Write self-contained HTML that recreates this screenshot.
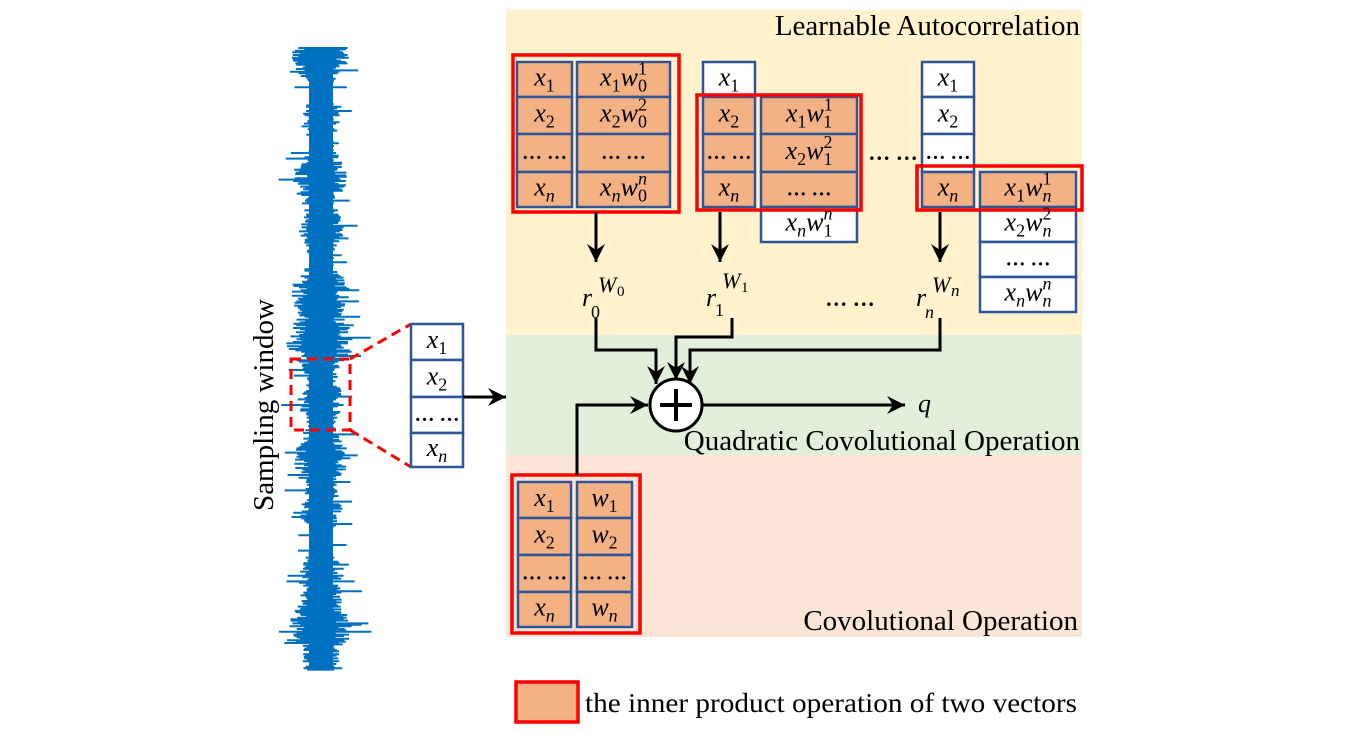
<!DOCTYPE html>
<html><head><meta charset="utf-8"><style>
body{margin:0;background:#fff;}
svg{display:block;}
text{font-family:"Liberation Serif",serif;}
.m{font-style:italic;font-size:26px;}
.s{font-size:18px;}
.t{font-size:29px;}
</style></head><body>
<svg width="1357" height="734" viewBox="0 0 1357 734" xmlns="http://www.w3.org/2000/svg">
<defs>
<marker id="ab" markerWidth="20" markerHeight="18" refX="18" refY="9" orient="auto" markerUnits="userSpaceOnUse"><path d="M0,0 L18,9 L0,18 L6,9z" fill="#000"/></marker></defs>
<rect x="506" y="10" width="576" height="325" fill="#FFF2CC"/>
<rect x="506" y="335" width="576" height="120" fill="#E2EFDA"/>
<rect x="506" y="455" width="576" height="182" fill="#FBE5D6"/>
<text class="t" x="1080" y="35" text-anchor="end">Learnable Autocorrelation</text>
<text class="t" x="1080" y="450" text-anchor="end">Quadratic Covolutional Operation</text>
<text class="t" x="1078" y="630" text-anchor="end">Covolutional Operation</text>
<g id="sig"></g>
<text class="t" x="273" y="405" text-anchor="middle" transform="rotate(-90 273 405)">Sampling window</text>
<g fill="none" stroke="#f00" stroke-width="3" stroke-dasharray="10,6">
<rect x="291" y="359" width="59" height="71"/>
<line x1="350" y1="359" x2="411" y2="324"/><line x1="350" y1="430" x2="411" y2="467"/></g>
<g stroke="#2F5597" stroke-width="2.5" id="cells"></g>
<g fill="none" stroke="#f00" stroke-width="3.5">
<rect x="513" y="55" width="166" height="157"/>
<rect x="697" y="95" width="164" height="115"/>
<rect x="917" y="166" width="165" height="44"/>
<rect x="512" y="475" width="128" height="158"/>
</g>
<g id="labs"></g>
<g stroke="#000" stroke-width="3" fill="none">
<line x1="596" y1="212" x2="596" y2="262" marker-end="url(#ab)"/>
<line x1="720" y1="212" x2="720" y2="262" marker-end="url(#ab)"/>
<line x1="940" y1="212" x2="940" y2="262" marker-end="url(#ab)"/>
<polyline points="596,318 596,350 656,350 656,384" marker-end="url(#ab)"/>
<polyline points="732,318 732,337 676,337 676,380" marker-end="url(#ab)"/>
<polyline points="940,318 940,350 690,350 690,384" marker-end="url(#ab)"/>
<polyline points="577,475 577,405 648,405" marker-end="url(#ab)"/>
<line x1="702" y1="405" x2="905" y2="405" marker-end="url(#ab)"/>
<line x1="463" y1="397" x2="506" y2="397" marker-end="url(#ab)"/>
<circle cx="676" cy="405" r="26" fill="#fff"/>
<line x1="660" y1="405" x2="692" y2="405" stroke-width="4"/><line x1="676" y1="389" x2="676" y2="421" stroke-width="4"/>
</g>
<text class="m" x="918" y="412">q</text>
<g class="m">
<text x="582" y="306">r</text><text x="591" y="318" font-size="18" font-style="normal">0</text>
<text x="598" y="292" font-size="22">W</text><text x="617" y="296" font-size="15" font-style="normal">0</text>
<text x="706" y="306">r</text><text x="715" y="316" font-size="18" font-style="normal">1</text>
<text x="722" y="288" font-size="22">W</text><text x="741" y="292" font-size="15" font-style="normal">1</text>
<text x="916" y="306">r</text><text x="925" y="318" font-size="18">n</text>
<text x="932" y="292" font-size="22">W</text><text x="951" y="296" font-size="17">n</text>
</g>
<text x="850" y="306" font-size="22" text-anchor="middle" font-weight="bold">… …</text>
<text x="893" y="160" font-size="22" text-anchor="middle" font-weight="bold">… …</text>
<rect x="516" y="682" width="62" height="40" fill="#F4B183" stroke="#f00" stroke-width="3.5"/>
<text x="585" y="712" font-size="27" textLength="492" lengthAdjust="spacingAndGlyphs">the inner product operation of two vectors</text>
</svg>
<script>
var ns="http://www.w3.org/2000/svg";
function el(p,t,a,txt){var e=document.createElementNS(ns,t);for(var k in a)e.setAttribute(k,a[k]);if(txt!==undefined)e.innerHTML=txt;document.getElementById(p).appendChild(e);return e;}
var seed=11;function rnd(){seed=(seed*9301+49297)%233280;return seed/233280;}
var d="";var c=321;
for(var y=48;y<670;y+=1.4){
 var env=17+4*Math.sin(y/23)+4*Math.sin(y/9+1)+3*Math.sin(y/57+2);
 var l=env*(0.6+0.7*rnd()), r=env*(0.6+0.7*rnd());
 if(rnd()<0.07)l+=8+14*rnd(); if(rnd()<0.07)r+=8+14*rnd();
 d+="M"+(c-l).toFixed(1)+","+y.toFixed(1)+"H"+(c+r).toFixed(1);}
el("sig","path",{d:d,stroke:"#0070C0","stroke-width":"2",fill:"none"});
el("sig","rect",{x:309,y:48,width:24,height:622,fill:"#0070C0"});
var O="#F4B183",W="#fff";
function sb(v){return '<tspan class="s" font-style="'+(v==='n'?'italic':'normal')+'" dy="6">'+v+'</tspan>';}
function x(i){return 'x'+sb(i);}
function xw(i,j,k){return 'x'+sb(i)+'<tspan dy="-6">w</tspan><tspan class="s" font-style="'+(k==='n'?'italic':'normal')+'" dy="-11">'+k+'</tspan><tspan class="s" font-style="'+(j==='n'?'italic':'normal')+'" dx="-9" dy="17">'+j+'</tspan>';}
var DOT='<tspan font-style="normal" font-weight="bold" font-size="20">… …</tspan>';
function cell(x0,y0,w,h,fill,html){el("cells","rect",{x:x0,y:y0,width:w,height:h,fill:fill});el("labs","text",{x:x0+w/2,y:y0+h/2+6,"text-anchor":"middle","class":"m"},html);}
var R=[62,97,134,172,207,242,277,312];
function col(x0,w,start,fills,labels){for(var i=0;i<labels.length;i++){cell(x0,R[start+i],w,R[start+i+1]-R[start+i],fills[i],labels[i]);}}
col(517,55,0,[O,O,O,O],[x(1),x(2),DOT,x('n')]);
col(577,93,0,[O,O,O,O],[xw(1,0,1),xw(2,0,2),DOT,xw('n',0,'n')]);
col(703,52,0,[W,O,O,O],[x(1),x(2),DOT,x('n')]);
col(761,96,1,[O,O,O,W],[xw(1,1,1),xw(2,1,2),DOT,xw('n',1,'n')]);
col(922,52,0,[W,W,W,O],[x(1),x(2),DOT,x('n')]);
col(980,96,3,[O,W,W,W],[xw(1,'n',1),xw(2,'n',2),DOT,xw('n','n','n')]);
var R2=[324,360,397,433,467];
for(var i=0;i<4;i++)cell(411,R2[i],52,R2[i+1]-R2[i],W,[x(1),x(2),DOT,x('n')][i]);
var R3=[482,518,555,592,627];
function w(i){return 'w'+sb(i);}
for(var i=0;i<4;i++){cell(518,R3[i],53,R3[i+1]-R3[i],O,[x(1),x(2),DOT,x('n')][i]);cell(577,R3[i],55,R3[i+1]-R3[i],O,[w(1),w(2),DOT,w('n')][i]);}
</script>
</body></html>
